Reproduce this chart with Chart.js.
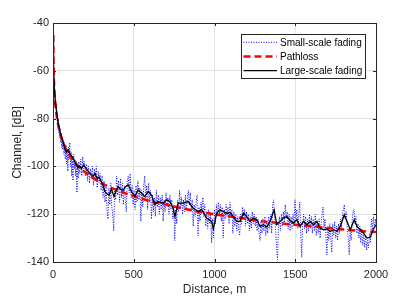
<!DOCTYPE html>
<html>
<head>
<meta charset="utf-8">
<script src="https://cdn.jsdelivr.net/npm/chart.js@4"></script>
<style>
  html, body { margin: 0; padding: 0; background: #fff; }
</style>
</head>
<body>
<canvas id="channelChart" width="415" height="298"></canvas>
<script>
// [distance m, channel dB]
const pathloss = [
    [1, -45], [2, -52.5], [3, -57], [5, -62.5], [7, -66], [10, -70], [15, -74.5], [20, -77.5],
    [30, -82], [40, -85], [50, -87.5], [75, -92], [100, -95], [150, -99.5], [200, -102.5],
    [300, -107], [400, -110], [500, -112.5], [600, -114.5], [700, -116], [800, -117.5],
    [900, -119], [1000, -120], [1100, -121], [1200, -122], [1300, -123], [1400, -123.7],
    [1500, -124.4], [1600, -125], [1700, -125.8], [1800, -126.4], [1900, -127], [2000, -127.5]
];

const largeScale = [
    [1, -45], [2, -52], [5, -61], [10, -69], [15, -73], [20, -76], [30, -81], [40, -84.5],
    [50, -87], [62, -89.5], [73, -92.5], [83, -94], [93, -93], [108, -95], [120, -96],
    [135, -98], [155, -100.5], [166, -99.8], [176, -101], [190, -99.5], [207, -101],
    [228, -103], [248, -104], [260, -103], [273, -105], [285, -104.5], [300, -106.5],
    [310, -108], [321, -110.5], [335, -111.5], [347, -112], [362, -109.5], [377, -112.5],
    [389, -110.5], [403, -108.5], [418, -109.5], [434, -110], [450, -108.5], [465, -107.7],
    [486, -110.5], [507, -112.6], [527, -109.8], [548, -111.2], [569, -112.6], [589, -110.5],
    [610, -112], [631, -116], [651, -114.7], [682, -115.4], [703, -114], [724, -114.7],
    [744, -117.5], [755, -121], [775, -115.4], [806, -115.4], [837, -114.7], [868, -117.5],
    [900, -118.9], [920, -118], [951, -121.6], [982, -123], [993, -126], [1013, -119.6],
    [1034, -118.2], [1055, -118.9], [1075, -119.6], [1096, -119.3], [1117, -121], [1137, -123],
    [1158, -123], [1179, -119.6], [1200, -121], [1220, -123], [1241, -121.6], [1262, -122.3],
    [1282, -125.1], [1303, -124.4], [1324, -125.4], [1344, -123], [1369, -118.2], [1386, -124.4],
    [1406, -123], [1427, -121.6], [1448, -121], [1468, -122.6], [1489, -123.7], [1510, -122.3],
    [1530, -125.1], [1551, -123], [1572, -124.4], [1592, -123], [1613, -124.4], [1634, -123],
    [1654, -125.8], [1675, -126.5], [1696, -126.2], [1716, -127.2], [1737, -126.5], [1758, -127.2],
    [1779, -125.1], [1803, -120.3], [1820, -123], [1841, -126.5], [1865, -122.3], [1882, -125.1],
    [1903, -126.5], [1923, -127.9], [1944, -130], [1965, -129.6], [1982, -126.5], [2000, -124.4]
];

const smallScale = [
    [1, -44], [2, -47], [3, -51], [4, -55], [5, -58], [6, -60], [7, -62], [8, -64], [9, -66],
    [10, -69], [12, -70], [14, -73], [16, -72], [18, -76], [20, -74], [22, -79], [24, -77],
    [26, -81], [28, -79], [30, -83], [33, -80], [36, -86], [39, -83], [42, -88], [45, -84],
    [48, -90], [51, -86], [54, -92], [57, -88], [60, -93], [64, -89], [68, -95], [72, -90],
    [76, -97], [80, -91], [84, -99], [88, -93], [92, -102], [96, -92], [100, -97], [104, -90],
    [108, -100], [112, -94], [116, -104], [120, -96], [124, -106], [128, -95], [132, -101],
    [136, -97], [140, -104], [144, -98], [148, -111], [152, -99], [156, -105], [160, -98],
    [166, -103], [172, -97], [178, -104], [184, -96], [190, -101], [196, -98], [202, -104],
    [208, -99], [214, -106], [220, -100], [226, -107], [232, -101], [238, -105], [244, -100],
    [250, -108], [256, -101], [262, -106], [268, -100], [274, -109], [280, -102], [286, -107],
    [292, -103], [298, -110], [304, -104], [310, -113], [316, -106], [322, -115], [328, -108],
    [334, -118], [340, -122], [346, -109], [352, -116], [358, -107], [364, -117], [370, -120],
    [376, -127], [382, -110], [388, -114], [394, -104], [400, -112], [406, -106], [412, -115],
    [418, -105], [424, -113], [430, -107], [436, -116], [442, -108], [448, -114], [454, -119],
    [460, -106], [466, -104], [472, -111], [478, -103], [484, -113], [490, -108], [496, -116],
    [502, -110], [508, -118], [514, -108], [520, -115], [526, -106], [532, -114], [538, -109],
    [544, -123], [550, -110], [556, -117], [562, -108], [568, -104], [574, -114], [580, -108],
    [586, -118], [592, -107], [598, -115], [604, -110], [610, -122], [616, -112], [622, -119],
    [628, -113], [634, -121], [640, -110], [646, -117], [652, -112], [658, -120], [664, -113],
    [670, -118], [676, -112], [682, -123], [688, -114], [694, -119], [700, -111], [706, -117],
    [712, -113], [718, -120], [724, -112], [730, -118], [736, -114], [742, -122], [748, -116],
    [754, -131], [760, -118], [766, -124], [772, -114], [778, -119], [784, -110], [790, -117],
    [796, -113], [802, -120], [808, -114], [814, -119], [820, -112], [826, -118], [832, -113],
    [838, -110], [844, -116], [850, -111], [856, -119], [862, -114], [868, -125], [874, -116],
    [880, -121], [886, -115], [892, -112], [898, -129], [904, -117], [910, -123], [916, -115],
    [922, -119], [928, -113], [934, -121], [940, -116], [946, -125], [952, -119], [958, -126],
    [964, -118], [970, -124], [976, -120], [982, -132], [988, -122], [994, -130], [1000, -118],
    [1006, -124], [1012, -116], [1018, -121], [1024, -115], [1030, -120], [1036, -116],
    [1042, -123], [1048, -117], [1054, -130], [1060, -118], [1066, -122], [1072, -116],
    [1078, -121], [1084, -117], [1090, -124], [1096, -115], [1102, -121], [1108, -118],
    [1114, -128], [1120, -119], [1126, -125], [1132, -120], [1138, -127], [1144, -121],
    [1150, -126], [1156, -129], [1162, -120], [1168, -124], [1174, -117], [1180, -122],
    [1186, -118], [1192, -125], [1198, -119], [1204, -124], [1210, -120], [1216, -127],
    [1222, -121], [1228, -126], [1234, -119], [1240, -124], [1246, -120], [1252, -125],
    [1258, -121], [1264, -127], [1270, -122], [1276, -128], [1282, -131], [1288, -123],
    [1294, -128], [1300, -122], [1306, -127], [1312, -121], [1318, -129], [1324, -123],
    [1330, -128], [1336, -121], [1342, -126], [1348, -120], [1354, -128], [1360, -116],
    [1366, -114], [1372, -121], [1378, -126], [1384, -133], [1390, -139], [1396, -125],
    [1402, -121], [1408, -127], [1414, -120], [1420, -125], [1426, -119], [1432, -124],
    [1438, -116], [1444, -122], [1450, -119], [1456, -126], [1462, -120], [1468, -127],
    [1474, -121], [1480, -126], [1486, -120], [1492, -125], [1498, -114], [1504, -122],
    [1510, -118], [1516, -126], [1522, -120], [1528, -115], [1534, -128], [1540, -138],
    [1546, -124], [1552, -120], [1558, -126], [1564, -121], [1570, -128], [1576, -122],
    [1582, -127], [1588, -120], [1594, -126], [1600, -121], [1606, -128], [1612, -122],
    [1618, -127], [1624, -120], [1630, -129], [1636, -123], [1642, -128], [1648, -122],
    [1654, -130], [1660, -124], [1666, -120], [1672, -117], [1678, -126], [1684, -122],
    [1690, -129], [1696, -137], [1702, -125], [1708, -131], [1714, -124], [1720, -130],
    [1726, -136], [1732, -124], [1738, -129], [1744, -123], [1750, -130], [1756, -125],
    [1762, -131], [1768, -124], [1774, -128], [1780, -122], [1786, -126], [1792, -120],
    [1798, -118], [1804, -116], [1810, -122], [1816, -119], [1822, -126], [1828, -130],
    [1834, -137], [1840, -127], [1846, -131], [1852, -123], [1858, -119], [1864, -118],
    [1870, -124], [1876, -121], [1882, -128], [1888, -124], [1894, -130], [1900, -125],
    [1906, -132], [1912, -126], [1918, -133], [1924, -128], [1930, -134], [1936, -129],
    [1942, -135], [1948, -131], [1954, -134], [1960, -128], [1966, -132], [1972, -122],
    [1978, -127], [1984, -121], [1990, -126], [1996, -122], [2000, -125]
];

const seriesLabels = ['Small-scale fading', 'Pathloss', 'Large-scale fading'];
const xTickStep = 500;
const yTickStep = 20;

const axisColor = '#262626';
const fontFamily = '"Liberation Sans", Arial, Helvetica, sans-serif';

// MATLAB style box with inward ticks, drawn over the data
const axesBox = {
    id: 'axesBox',
    afterDatasetsDraw(chart) {
        const { ctx, chartArea: a, scales: { x, y } } = chart;
        const tick = 3;
        ctx.save();
        ctx.strokeStyle = axisColor;
        ctx.lineWidth = 1;
        ctx.beginPath();
        x.ticks.forEach(t => {
            const px = Math.round(x.getPixelForValue(t.value)) + 0.5;
            ctx.moveTo(px, a.bottom); ctx.lineTo(px, a.bottom - tick);
            ctx.moveTo(px, a.top); ctx.lineTo(px, a.top + tick);
        });
        y.ticks.forEach(t => {
            const py = Math.round(y.getPixelForValue(t.value)) + 0.5;
            ctx.moveTo(a.left, py); ctx.lineTo(a.left + tick, py);
            ctx.moveTo(a.right, py); ctx.lineTo(a.right - tick, py);
        });
        ctx.stroke();
        ctx.strokeRect(Math.round(a.left) + 0.5, Math.round(a.top) + 0.5,
            Math.round(a.right - a.left), Math.round(a.bottom - a.top));
        ctx.restore();
    },
    afterDraw(chart) {
        // legend box in the upper right corner of the axes
        const { ctx, chartArea: a } = chart;
        const boxRight = a.right - 11;
        const boxLeft = boxRight - 124;
        const boxTop = a.top + 10.5;
        const rowH = 14.2;
        ctx.save();
        ctx.fillStyle = '#fff';
        ctx.fillRect(boxLeft, boxTop, boxRight - boxLeft, 44);
        ctx.strokeStyle = axisColor;
        ctx.lineWidth = 1;
        ctx.strokeRect(Math.round(boxLeft) + 0.5, Math.round(boxTop) + 0.5, 124, 44);
        ctx.font = '10px ' + fontFamily;
        ctx.textBaseline = 'middle';
        chart.data.datasets.forEach((ds, i) => {
            const cy = boxTop + 8.8 + i * rowH;
            ctx.beginPath();
            ctx.strokeStyle = ds.borderColor;
            ctx.lineWidth = ds.borderWidth;
            ctx.setLineDash(ds.borderDash || []);
            ctx.moveTo(boxLeft + 2.5, cy);
            ctx.lineTo(boxLeft + 36, cy);
            ctx.stroke();
            ctx.setLineDash([]);
            ctx.fillStyle = '#000';
            ctx.fillText(ds.label, boxLeft + 39, cy + 0.5);
        });
        ctx.restore();
    }
};

new Chart(document.getElementById('channelChart'), {
    type: 'line',
    data: {
        datasets: [
            {
                label: seriesLabels[0],
                data: smallScale,
                borderColor: '#0000ff',
                borderWidth: 1,
                borderDash: [1, 1.5],
                pointRadius: 0,
                tension: 0,
                order: 3
            },
            {
                label: seriesLabels[1],
                data: pathloss,
                borderColor: '#ff0000',
                borderWidth: 2.5,
                borderDash: [7, 4],
                pointRadius: 0,
                tension: 0.3,
                order: 2
            },
            {
                label: seriesLabels[2],
                data: largeScale,
                borderColor: '#000000',
                borderWidth: 1.3,
                pointRadius: 0,
                tension: 0,
                order: 1
            }
        ]
    },
    options: {
        responsive: false,
        animation: false,
        devicePixelRatio: 1,
        layout: { padding: { left: 0, top: 23, right: 39, bottom: 0 } },
        plugins: {
            legend: { display: false },
            tooltip: { enabled: false }
        },
        scales: {
            x: {
                type: 'linear',
                min: 0,
                max: 2000,
                border: { display: false },
                grid: { color: '#e3e3e3', lineWidth: 1, drawTicks: false },
                ticks: {
                    stepSize: xTickStep,
                    padding: 6,
                    color: axisColor,
                    font: { family: fontFamily, size: 11 },
                    maxRotation: 0,
                    callback: value => String(value)
                },
                title: {
                    display: true,
                    text: 'Distance, m',
                    color: axisColor,
                    font: { family: fontFamily, size: 12 },
                    padding: { top: 0, bottom: 1 }
                },
                afterFit(scale) { scale.height = 36; }
            },
            y: {
                min: -140,
                max: -40,
                border: { display: false },
                grid: { color: '#e3e3e3', lineWidth: 1, drawTicks: false },
                ticks: {
                    stepSize: yTickStep,
                    padding: 4,
                    color: axisColor,
                    font: { family: fontFamily, size: 11 },
                    callback: value => String(value)
                },
                title: {
                    display: true,
                    text: 'Channel, [dB]',
                    color: axisColor,
                    font: { family: fontFamily, size: 12 },
                    padding: { top: 10, bottom: 0 }
                },
                afterFit(scale) { scale.width = 53; }
            }
        }
    },
    plugins: [axesBox]
});
</script>
</body>
</html>
